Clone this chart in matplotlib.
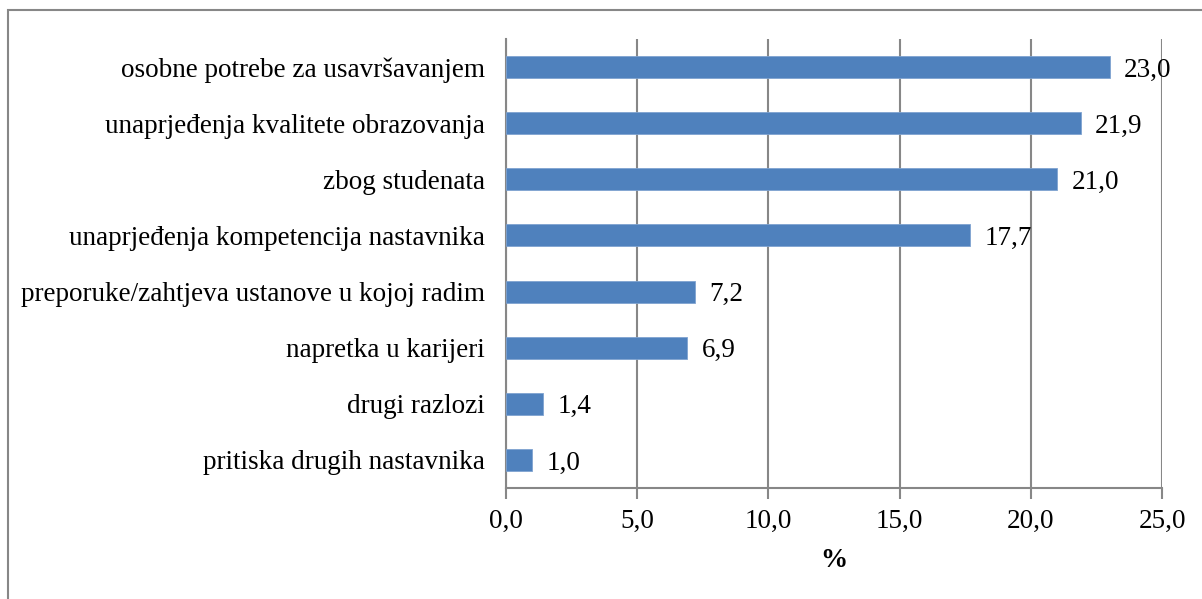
import matplotlib.pyplot as plt
from matplotlib.patches import Rectangle

razlozi = [
    "osobne potrebe za usavršavanjem",
    "unaprjeđenja kvalitete obrazovanja",
    "zbog studenata",
    "unaprjeđenja kompetencija nastavnika",
    "preporuke/zahtjeva ustanove u kojoj radim",
    "napretka u karijeri",
    "drugi razlozi",
    "pritiska drugih nastavnika",
]
postotci = [23.0, 21.9, 21.0, 17.7, 7.2, 6.9, 1.4, 1.0]
x_ticks = [0, 5, 10, 15, 20, 25]

plt.rcParams['font.family'] = ['Liberation Serif', 'DejaVu Serif']
siva = '#878787'
plava = '#4F81BD'
fs = 19.5

fig = plt.figure(figsize=(12.02, 5.99), dpi=100)
ax = fig.add_axes([506 / 1202, 1 - 488 / 599, 656 / 1202, 449 / 599])

# okvir oko cijelog grafikona
fig.patches.append(Rectangle((8 / 1202, -0.1), 1.2, 1 - 10 / 599 + 0.1,
                             transform=fig.transFigure, fill=False,
                             edgecolor=siva, linewidth=1.5))

y = list(range(len(razlozi)))[::-1]
ax.barh(y, postotci, height=0.39, color=plava, edgecolor='#7FA3D0',
        linewidth=0.6, zorder=3)
for yi, v in zip(y, postotci):
    ax.text(v + 0.55, yi, f"{v:.1f}".replace('.', ','), va='center_baseline',
            ha='left', fontsize=fs, color='black', zorder=4)

ax.set_xlim(0, 25)
ax.set_ylim(-0.5, len(razlozi) - 0.5)
ax.set_xticks(x_ticks)
ax.set_xticklabels([f"{t:.1f}".replace('.', ',') for t in x_ticks], fontsize=fs)
ax.set_yticks(y)
ax.set_yticklabels(razlozi, fontsize=fs, va='center_baseline')
ax.tick_params(axis='y', length=0, pad=15)
ax.tick_params(axis='x', length=8, width=1.5, color=siva, pad=7)
ax.grid(axis='x', color=siva, linewidth=1.5, zorder=0)
ax.set_xlabel('%', fontsize=fs, fontweight='bold', labelpad=10)

for s in ['top', 'right']:
    ax.spines[s].set_visible(False)
for s in ['left', 'bottom']:
    ax.spines[s].set_color(siva)
    ax.spines[s].set_linewidth(1.5)

fig.savefig('out.png', dpi=100)
